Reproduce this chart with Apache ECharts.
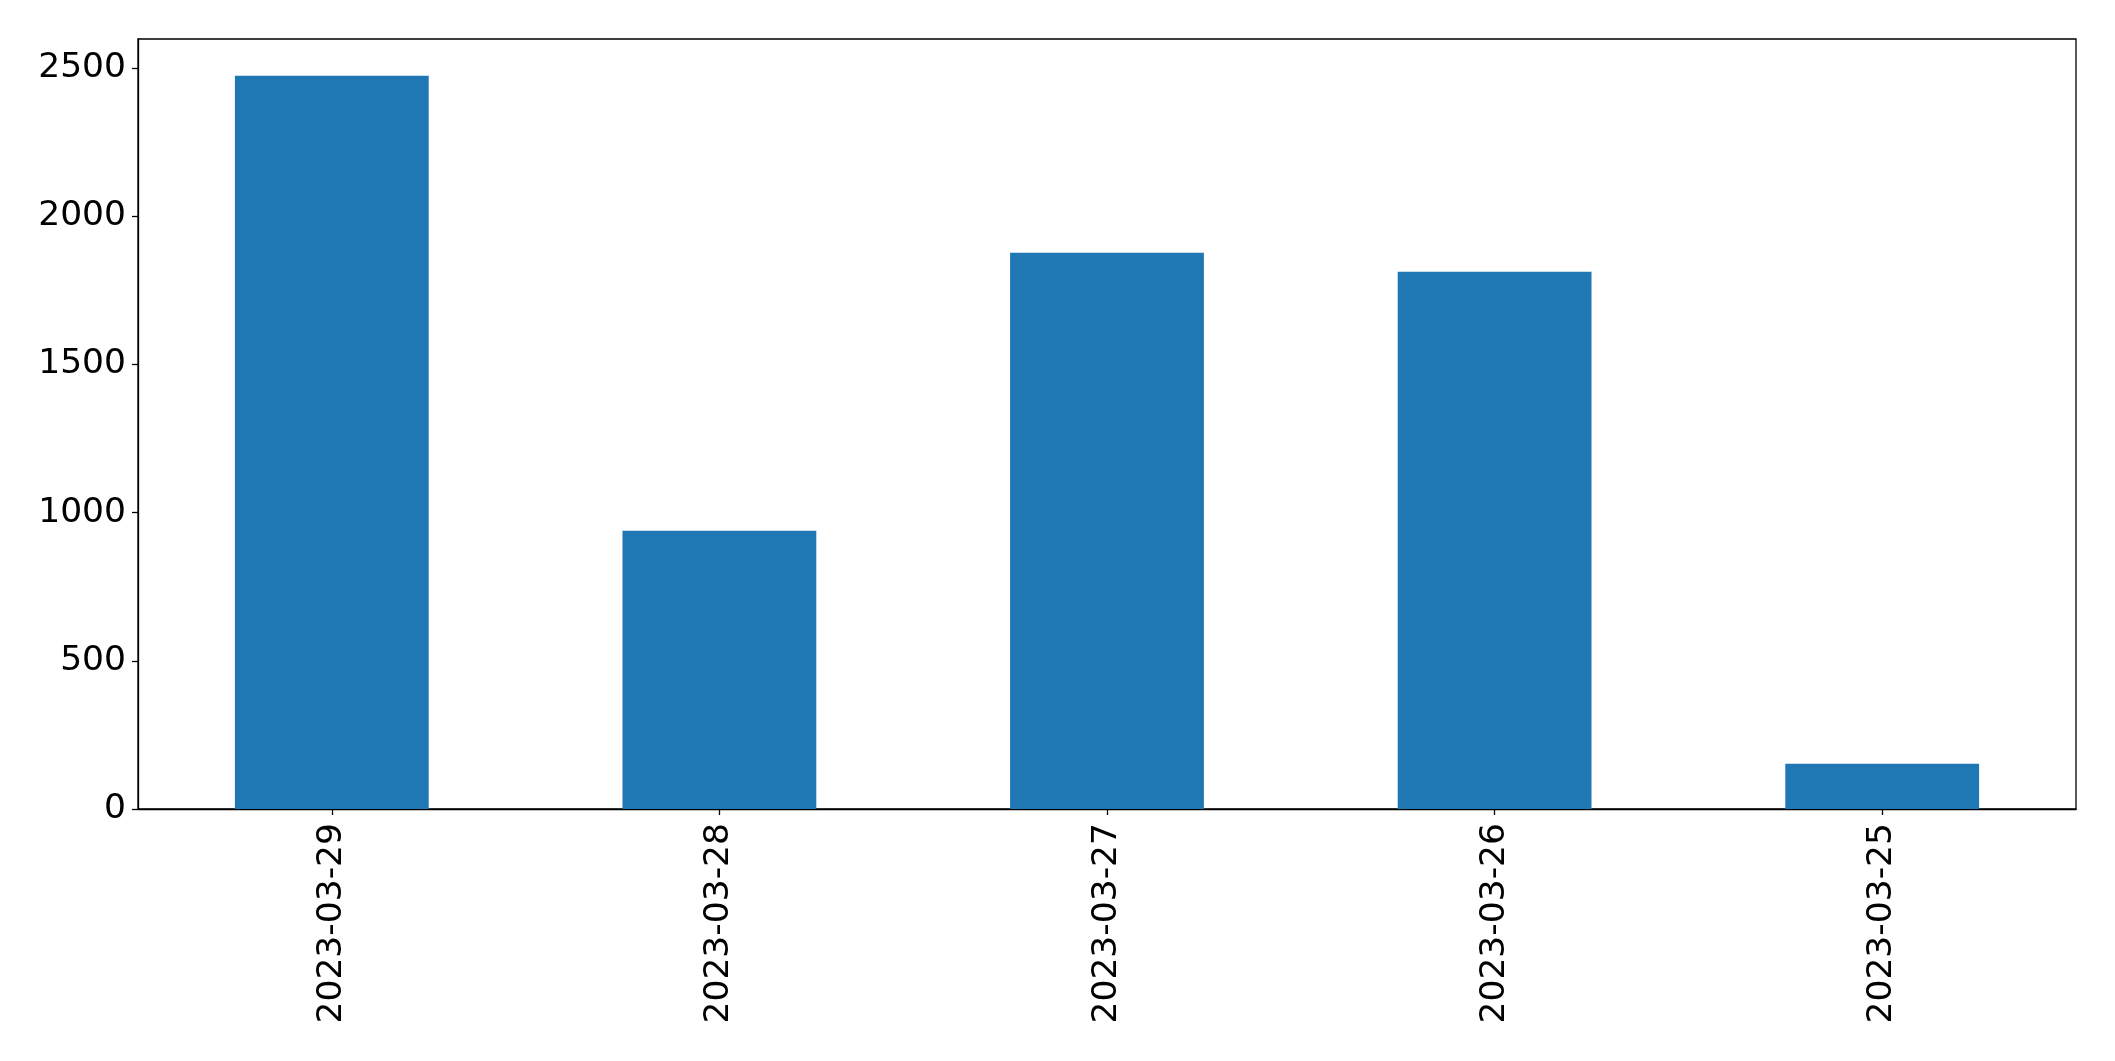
<!DOCTYPE html>
<html>
<head>
<meta charset="utf-8">
<script src="https://cdn.jsdelivr.net/npm/echarts@6/dist/echarts.min.js"></script>
<style>
html,body{margin:0;padding:0;background:#fff;}
#chart{width:2115px;height:1061px;}
</style>
</head>
<body>
<div id="chart"></div>
<script>
const categories = ['2023-03-29', '2023-03-28', '2023-03-27', '2023-03-26', '2023-03-25'];
const values = [2474, 939, 1877, 1813, 153];
const yTicks = [0, 500, 1000, 1500, 2000, 2500];

const chart = echarts.init(document.getElementById('chart'), null, {renderer: 'canvas'});
chart.setOption({
  animation: false,
  backgroundColor: '#ffffff',
  grid: {left: 138, right: 39, top: 39, bottom: 252, show: true, borderColor: '#000', borderWidth: 1.3, backgroundColor: 'transparent'},
  xAxis: {
    type: 'category',
    data: categories,
    boundaryGap: true,
    axisLine: {show: true, lineStyle: {color: '#000', width: 1.3}},
    axisTick: {show: true, alignWithLabel: true, length: 6, lineStyle: {color: '#000', width: 1.3}},
    axisLabel: {rotate: 90, fontSize: 34.5, color: '#000', fontFamily: 'DejaVu Sans', margin: 14},
    splitLine: {show: false}
  },
  yAxis: {
    type: 'value',
    min: 0,
    max: 2598,
    interval: 500,
    axisLine: {show: true, lineStyle: {color: '#000', width: 1.3}},
    axisTick: {show: true, length: 6, customValues: yTicks, lineStyle: {color: '#000', width: 1.3}},
    axisLabel: {fontSize: 34.5, color: '#000', fontFamily: 'DejaVu Sans', margin: 12, customValues: yTicks,
      formatter: v => String(v)},
    splitLine: {show: false}
  },
  series: [{
    type: 'bar',
    data: values,
    barWidth: '50%',
    itemStyle: {color: '#1f77b4'}
  }]
});
</script>
</body>
</html>
